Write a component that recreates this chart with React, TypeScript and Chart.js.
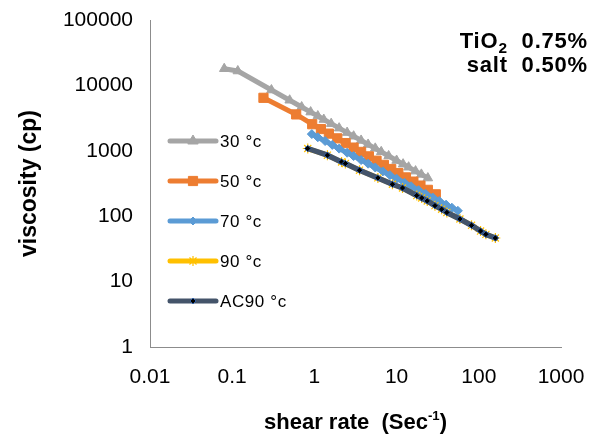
import React, { useEffect, useRef } from 'react';
import { Chart, registerables } from 'chart.js';

Chart.register(...registerables);

// ---------- data ----------
const xTickValues = [0.01, 0.1, 1, 10, 100, 1000];
const xTickLabels = ['0.01', '0.1', '1', '10', '100', '1000'];
const yTickValues = [1, 10, 100, 1000, 10000, 100000];
const yTickLabels = ['1', '10', '100', '1000', '10000', '100000'];

const seriesNames = ['30 °c', '50 °c', '70 °c', '90 °c', 'AC90 °c'];
const yAxisTitle = 'viscosity (cp)';

const shear30 = [0.08, 0.117, 0.3, 0.5, 0.7, 0.9, 1.1, 1.3, 1.6, 2, 2.5, 3, 3.7, 4.5, 5.5, 6.5, 8, 10, 12, 14, 17, 20, 24];
const visc30 = [18000, 16600, 8500, 5930, 4670, 3910, 3400, 3010, 2600, 2220, 1900, 1670, 1440, 1250, 1090, 965, 834, 711, 625, 561, 489, 436, 383];

const shear50 = [0.24, 0.6, 0.94, 1.2, 1.5, 1.9, 2.4, 3, 3.7, 4.6, 5.7, 7, 8.6, 10.5, 13, 16, 19.5, 24, 30];
const visc50 = [6460, 3600, 2550, 2150, 1830, 1550, 1310, 1120, 962, 822, 706, 610, 527, 457, 392, 338, 294, 253, 216];

const shear70 = [0.93, 1.1, 1.35, 1.65, 2, 2.5, 3, 3.7, 4.5, 5.5, 6.8, 8.3, 10, 12.5, 15, 18.5, 22.5, 27.5, 33, 40, 47, 55.6];
const visc70 = [1800, 1610, 1410, 1230, 1080, 935, 830, 722, 635, 556, 484, 424, 375, 324, 287, 250, 220, 193, 171, 150, 135, 121];

const shear90 = [0.83, 1.44, 2.14, 2.38, 3.54, 5.92, 8.9, 11.8, 17.6, 20.2, 23.6, 29.3, 35.3, 40.9, 58.9, 81.6, 105, 122, 159];
const visc90 = [1084, 857, 676, 639, 505, 385, 308, 270, 207, 190, 171, 145, 128, 114, 90.6, 72.6, 59.3, 52.8, 46.4];

const shearAC90 = [0.83, 1.44, 2.14, 2.38, 3.54, 5.92, 8.9, 11.8, 17.6, 20.2, 23.6, 29.3, 35.3, 40.9, 58.9, 81.6, 105, 122, 159];
const viscAC90 = [1084, 857, 676, 639, 505, 385, 308, 270, 207, 190, 171, 145, 128, 114, 90.6, 72.6, 59.3, 52.8, 46.4];

// ---------- styles ----------
const FONT = '"Liberation Sans", Arial, Helvetica, sans-serif';
const AXIS_COLOR = '#8C8C8C';

const pts = (xs: number[], ys: number[]) => xs.map((x, i) => ({ x, y: ys[i] }));

type Marker = { style: string; r: number; fill: string; stroke: string; lw: number };

const legendMarkers: Marker[] = [
  { style: 'triangle', r: 6, fill: '#A5A5A5', stroke: '#A5A5A5', lw: 1 },
  { style: 'rect', r: 6.5, fill: '#ED7D31', stroke: '#ED7D31', lw: 1 },
  { style: 'rectRot', r: 4, fill: '#5B9BD5', stroke: '#5B9BD5', lw: 1 },
  { style: 'star', r: 5, fill: '#FFC000', stroke: '#FFC000', lw: 1.2 },
  { style: 'rectRot', r: 3, fill: '#000000', stroke: '#2F5FA8', lw: 1 },
];

function drawMarker(ctx: CanvasRenderingContext2D, m: Marker, x: number, y: number) {
  ctx.save();
  ctx.fillStyle = m.fill;
  ctx.strokeStyle = m.stroke;
  ctx.lineWidth = m.lw;
  ctx.lineCap = 'butt';
  ctx.beginPath();
  const r = m.r;
  if (m.style === 'triangle') {
    ctx.moveTo(x, y - r);
    ctx.lineTo(x + r * 0.866, y + r * 0.5);
    ctx.lineTo(x - r * 0.866, y + r * 0.5);
    ctx.closePath();
    ctx.fill();
    ctx.stroke();
  } else if (m.style === 'rect') {
    const s = r * Math.SQRT1_2;
    ctx.rect(x - s, y - s, 2 * s, 2 * s);
    ctx.fill();
    ctx.stroke();
  } else if (m.style === 'rectRot') {
    ctx.moveTo(x - r, y);
    ctx.lineTo(x, y - r);
    ctx.lineTo(x + r, y);
    ctx.lineTo(x, y + r);
    ctx.closePath();
    ctx.fill();
    ctx.stroke();
  } else if (m.style === 'star') {
    ctx.moveTo(x, y - r);
    ctx.lineTo(x, y + r);
    ctx.moveTo(x - r, y);
    ctx.lineTo(x + r, y);
    const d = r * Math.SQRT1_2;
    ctx.moveTo(x - d, y - d);
    ctx.lineTo(x + d, y + d);
    ctx.moveTo(x - d, y + d);
    ctx.lineTo(x + d, y - d);
    ctx.stroke();
  }
  ctx.restore();
}

const insideLegend = {
  id: 'insideLegend',
  afterDraw(chart: any) {
    const ctx: CanvasRenderingContext2D = chart.ctx;
    const area = chart.chartArea;
    const x0 = area.left + 20;
    const x1 = area.left + 66;
    const xm = (x0 + x1) / 2;
    const y0 = area.top + 121;
    ctx.save();
    seriesNames.forEach((name, i) => {
      const ds = chart.data.datasets.find((d: any) => d.label === name);
      const y = y0 + i * 40;
      ctx.beginPath();
      ctx.strokeStyle = ds.borderColor;
      ctx.lineWidth = 5;
      ctx.lineCap = 'round';
      ctx.moveTo(x0, y);
      ctx.lineTo(x1, y);
      ctx.stroke();
      drawMarker(ctx, legendMarkers[i], xm, y);
      ctx.fillStyle = '#000000';
      ctx.font = `17px ${FONT}`;
      (ctx as any).letterSpacing = '0.6px';
      ctx.textAlign = 'left';
      ctx.textBaseline = 'middle';
      ctx.fillText(name, x1 + 4, y + 1);
    });
    ctx.restore();
  },
};

export default function App() {
  const canvasRef = useRef<HTMLCanvasElement | null>(null);

  useEffect(() => {
    document.body.style.margin = '0';
    const canvas = canvasRef.current;
    if (!canvas) return;

    const common = {
      showLine: true,
      tension: 0,
      borderCapStyle: 'round',
      borderJoinStyle: 'round',
    };

    const chart = new Chart(canvas, {
      type: 'scatter',
      data: {
        datasets: [
          {
            ...common,
            label: seriesNames[0],
            data: pts(shear30, visc30),
            borderColor: '#A5A5A5',
            backgroundColor: '#A5A5A5',
            borderWidth: 5,
            pointStyle: 'triangle',
            pointRadius: 5.5,
            pointBackgroundColor: '#A5A5A5',
            pointBorderColor: '#A5A5A5',
            pointBorderWidth: 1,
            order: 5,
          },
          {
            ...common,
            label: seriesNames[1],
            data: pts(shear50, visc50),
            borderColor: '#ED7D31',
            backgroundColor: '#ED7D31',
            borderWidth: 5,
            pointStyle: 'rect',
            pointRadius: 6.5,
            pointBackgroundColor: '#ED7D31',
            pointBorderColor: '#ED7D31',
            pointBorderWidth: 1,
            order: 4,
          },
          {
            ...common,
            label: seriesNames[2],
            data: pts(shear70, visc70),
            borderColor: '#5B9BD5',
            backgroundColor: '#5B9BD5',
            borderWidth: 5,
            pointStyle: 'rectRot',
            pointRadius: 4.5,
            pointBackgroundColor: '#5B9BD5',
            pointBorderColor: '#5B9BD5',
            pointBorderWidth: 1,
            order: 3,
          },
          {
            ...common,
            label: seriesNames[3],
            data: pts(shear90, visc90),
            borderColor: '#FFC000',
            backgroundColor: '#FFC000',
            borderWidth: 5,
            pointStyle: 'star',
            pointRadius: 5,
            pointBackgroundColor: '#FFC000',
            pointBorderColor: '#FFC000',
            pointBorderWidth: 1.2,
            order: 2,
          },
          {
            ...common,
            label: seriesNames[4],
            data: pts(shearAC90, viscAC90),
            borderColor: '#44546A',
            backgroundColor: '#44546A',
            borderWidth: 5.5,
            pointStyle: 'rectRot',
            pointRadius: 3.2,
            pointBackgroundColor: '#000000',
            pointBorderColor: '#2F5FA8',
            pointBorderWidth: 1,
            order: 1,
          },
        ] as any,
      },
      options: {
        responsive: false,
        maintainAspectRatio: false,
        animation: false,
        devicePixelRatio: 1,
        layout: { padding: { left: 0, right: 38, top: 20, bottom: 0 } },
        plugins: {
          legend: { display: false },
          tooltip: { enabled: false },
          title: { display: false },
        },
        scales: {
          x: {
            type: 'logarithmic',
            min: 0.01,
            max: 1000,
            afterBuildTicks: (s: any) => {
              s.ticks = xTickValues.map((v) => ({ value: v }));
            },
            afterFit: (s: any) => {
              s.height = 90;
              s.paddingLeft = 0;
              s.paddingRight = 0;
            },
            grid: { display: false, drawTicks: false },
            border: { display: true, color: AXIS_COLOR, width: 1 },
            ticks: {
              autoSkip: false,
              maxRotation: 0,
              padding: 18,
              color: '#000000',
              font: { family: FONT, size: 21 },
              callback: (_v: any, i: number) => xTickLabels[i],
            },
          },
          y: {
            type: 'logarithmic',
            min: 1,
            max: 100000,
            afterBuildTicks: (s: any) => {
              s.ticks = yTickValues.map((v) => ({ value: v }));
            },
            afterFit: (s: any) => {
              s.width = 150;
              s.paddingTop = 0;
              s.paddingBottom = 0;
            },
            grid: { display: false, drawTicks: false },
            border: { display: true, color: AXIS_COLOR, width: 1 },
            ticks: {
              autoSkip: false,
              padding: 17,
              color: '#000000',
              font: { family: FONT, size: 21 },
              callback: (_v: any, i: number) => yTickLabels[i],
            },
            title: {
              display: true,
              text: yAxisTitle,
              color: '#000000',
              font: { family: FONT, size: 23, weight: 'bold' },
              padding: { top: 16, bottom: 0 },
            },
          },
        },
      } as any,
      plugins: [insideLegend],
    });

    return () => chart.destroy();
  }, []);

  return (
    <div style={{ position: 'relative', width: 599, height: 437, background: '#ffffff' }}>
      <canvas ref={canvasRef} width={599} height={437} style={{ display: 'block' }} />
      <div
        style={{
          position: 'absolute',
          right: 11,
          top: 29,
          textAlign: 'right',
          fontFamily: FONT,
          fontWeight: 'bold',
          fontSize: 22,
          lineHeight: '24px',
          letterSpacing: '0.8px',
          whiteSpace: 'pre',
          color: '#000000',
        }}
      >
        <div>
          TiO<sub style={{ fontSize: '0.7em', verticalAlign: '-0.35em', lineHeight: 0 }}>2</sub>{'  0.75%'}
        </div>
        <div>{'salt  0.50%'}</div>
      </div>
      <div
        style={{
          position: 'absolute',
          left: 150,
          width: 411,
          top: 409,
          textAlign: 'center',
          fontFamily: FONT,
          fontWeight: 'bold',
          fontSize: 22,
          lineHeight: '26px',
          whiteSpace: 'pre',
          color: '#000000',
        }}
      >
        {'shear rate  (Sec'}
        <sup style={{ fontSize: '0.6em', verticalAlign: '0.7em', lineHeight: 0 }}>-1</sup>
        {')'}
      </div>
    </div>
  );
}
